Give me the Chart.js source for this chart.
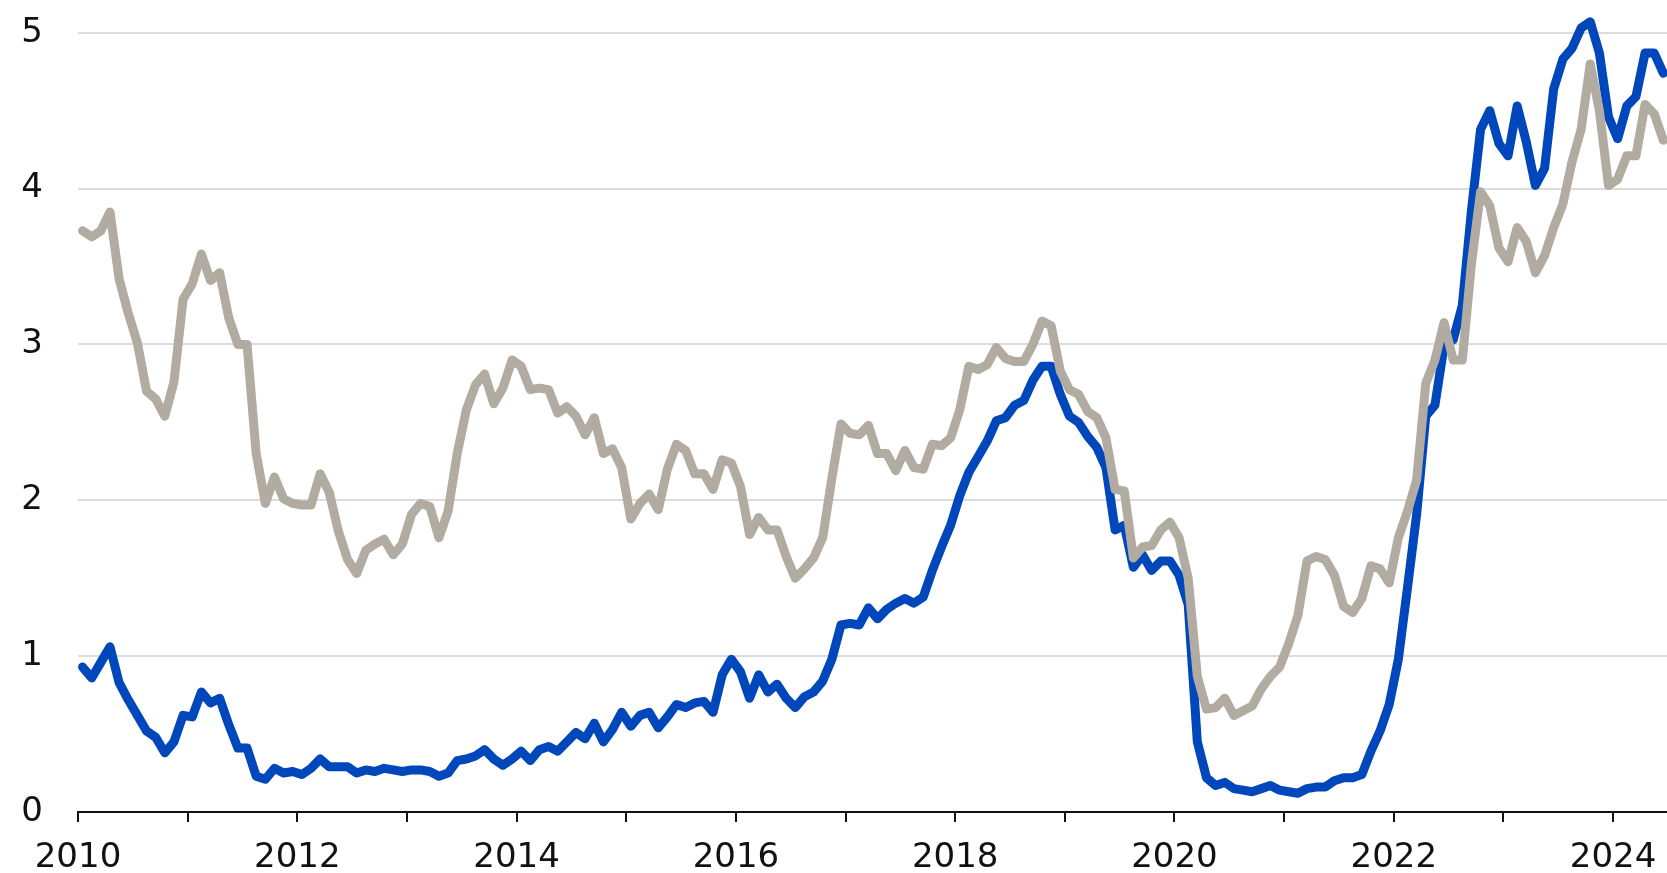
<!DOCTYPE html>
<html>
<head>
<meta charset="utf-8">
<script src="https://cdn.jsdelivr.net/npm/chart.js@4.4.1/dist/chart.umd.min.js"></script>
<style>
  html, body { margin: 0; padding: 0; background: #fff; }
  #wrap { width: 1667px; height: 873px; }
</style>
</head>
<body>
<div id="wrap"><canvas id="yieldChart" width="1667" height="873"></canvas></div>
<script>
// monthly averages, Jan 2010 - Jun 2024
const startYear = 2010;
const yearLabels = [2010, 2012, 2014, 2016, 2018, 2020, 2022, 2024];
const yTicks = [0, 1, 2, 3, 4, 5];

const twoYear = [
  0.93, 0.86, 0.96, 1.06, 0.83, 0.72, 0.62, 0.52, 0.48, 0.38, 0.45, 0.62, // 2010
  0.61, 0.77, 0.70, 0.73, 0.56, 0.41, 0.41, 0.23, 0.21, 0.28, 0.25, 0.26, // 2011
  0.24, 0.28, 0.34, 0.29, 0.29, 0.29, 0.25, 0.27, 0.26, 0.28, 0.27, 0.26, // 2012
  0.27, 0.27, 0.26, 0.23, 0.25, 0.33, 0.34, 0.36, 0.40, 0.34, 0.30, 0.34, // 2013
  0.39, 0.33, 0.40, 0.42, 0.39, 0.45, 0.51, 0.47, 0.57, 0.45, 0.53, 0.64, // 2014
  0.55, 0.62, 0.64, 0.54, 0.61, 0.69, 0.67, 0.70, 0.71, 0.64, 0.88, 0.98, // 2015
  0.90, 0.73, 0.88, 0.77, 0.82, 0.73, 0.67, 0.74, 0.77, 0.84, 0.98, 1.20, // 2016
  1.21, 1.20, 1.31, 1.24, 1.30, 1.34, 1.37, 1.34, 1.38, 1.55, 1.70, 1.84, // 2017
  2.03, 2.18, 2.28, 2.38, 2.51, 2.53, 2.61, 2.64, 2.77, 2.86, 2.86, 2.68, // 2018
  2.54, 2.50, 2.41, 2.34, 2.21, 1.81, 1.84, 1.57, 1.65, 1.55, 1.61, 1.61, // 2019
  1.52, 1.33, 0.45, 0.22, 0.17, 0.19, 0.15, 0.14, 0.13, 0.15, 0.17, 0.14, // 2020
  0.13, 0.12, 0.15, 0.16, 0.16, 0.20, 0.22, 0.22, 0.24, 0.39, 0.52, 0.69, // 2021
  0.98, 1.44, 1.91, 2.54, 2.61, 2.99, 3.03, 3.25, 3.86, 4.38, 4.50, 4.29, // 2022
  4.21, 4.53, 4.30, 4.02, 4.13, 4.64, 4.83, 4.90, 5.03, 5.07, 4.87, 4.46, // 2023
  4.32, 4.53, 4.59, 4.87, 4.87, 4.74                                      // 2024
];

const tenYear = [
  3.73, 3.69, 3.73, 3.85, 3.42, 3.20, 3.01, 2.70, 2.65, 2.54, 2.76, 3.29, // 2010
  3.39, 3.58, 3.41, 3.46, 3.17, 3.00, 3.00, 2.30, 1.98, 2.15, 2.01, 1.98, // 2011
  1.97, 1.97, 2.17, 2.05, 1.80, 1.62, 1.53, 1.68, 1.72, 1.75, 1.65, 1.72, // 2012
  1.91, 1.98, 1.96, 1.76, 1.93, 2.30, 2.58, 2.74, 2.81, 2.62, 2.72, 2.90, // 2013
  2.86, 2.71, 2.72, 2.71, 2.56, 2.60, 2.54, 2.42, 2.53, 2.30, 2.33, 2.21, // 2014
  1.88, 1.98, 2.04, 1.94, 2.20, 2.36, 2.32, 2.17, 2.17, 2.07, 2.26, 2.24, // 2015
  2.09, 1.78, 1.89, 1.81, 1.81, 1.64, 1.50, 1.56, 1.63, 1.76, 2.14, 2.49, // 2016
  2.43, 2.42, 2.48, 2.30, 2.30, 2.19, 2.32, 2.21, 2.20, 2.36, 2.35, 2.40, // 2017
  2.58, 2.86, 2.84, 2.87, 2.98, 2.91, 2.89, 2.89, 3.00, 3.15, 3.12, 2.83, // 2018
  2.71, 2.68, 2.57, 2.53, 2.40, 2.07, 2.06, 1.63, 1.70, 1.71, 1.81, 1.86, // 2019
  1.76, 1.50, 0.87, 0.66, 0.67, 0.73, 0.62, 0.65, 0.68, 0.79, 0.87, 0.93, // 2020
  1.08, 1.26, 1.61, 1.64, 1.62, 1.52, 1.32, 1.28, 1.37, 1.58, 1.56, 1.47, // 2021
  1.76, 1.93, 2.13, 2.75, 2.90, 3.14, 2.90, 2.90, 3.52, 3.98, 3.89, 3.62, // 2022
  3.53, 3.75, 3.66, 3.46, 3.57, 3.75, 3.90, 4.17, 4.38, 4.80, 4.50, 4.02, // 2023
  4.06, 4.21, 4.21, 4.54, 4.48, 4.31                                      // 2024
];

const BLUE = '#0047BB';
const GREY = '#B1ABA1';

// x = months since Jan 2010, plotted mid-month
function toPoints(arr) {
  return arr.map((v, i) => ({ x: i + 0.5, y: v }));
}

const tickFont = { family: '"DejaVu Sans", sans-serif', size: 34 };

const ctx = document.getElementById('yieldChart').getContext('2d');
const chart = new Chart(ctx, {
  type: 'line',
  data: {
    datasets: [
      {
        label: '10-year',
        data: toPoints(tenYear),
        borderColor: GREY,
        borderWidth: 9,
        pointRadius: 0,
        tension: 0,
        borderJoinStyle: 'round',
        borderCapStyle: 'round'
      },
      {
        label: '2-year',
        data: toPoints(twoYear),
        borderColor: BLUE,
        borderWidth: 9,
        pointRadius: 0,
        tension: 0,
        borderJoinStyle: 'round',
        borderCapStyle: 'round'
      }
    ]
  },
  options: {
    responsive: false,
    animation: false,
    events: [],
    layout: { padding: 0 },
    plugins: {
      legend: { display: false },
      tooltip: { enabled: false }
    },
    scales: {
      x: {
        type: 'linear',
        min: 0,
        max: 173.9,
        grid: {
          drawOnChartArea: false,
          drawTicks: true,
          tickLength: 10,
          color: '#111',
          lineWidth: 2
        },
        border: { display: true, color: '#111', width: 2 },
        ticks: {
          stepSize: 12,
          includeBounds: false,
          autoSkip: false,
          maxRotation: 0,
          padding: 16,
          color: '#111',
          font: tickFont,
          callback: (v) => {
            const yr = startYear + Math.round(v / 12);
            return yearLabels.includes(yr) ? String(yr) : '';
          }
        },
        afterFit: (s) => { s.height = 61; s.paddingLeft = 0; s.paddingRight = 0; }
      },
      y: {
        min: 0,
        max: 5.21,
        grid: {
          color: (c) => c.tick.value === 0 ? 'rgba(0,0,0,0)' : '#dcdcdc',
          lineWidth: 2,
          drawTicks: false
        },
        border: { display: false },
        ticks: {
          stepSize: 1,
          includeBounds: false,
          padding: 35,
          color: '#111',
          font: tickFont,
          callback: (v) => yTicks.includes(v) ? String(v) : ''
        },
        afterFit: (s) => { s.width = 78; s.paddingTop = 0; s.paddingBottom = 0; }
      }
    }
  }
});
</script>
</body>
</html>
